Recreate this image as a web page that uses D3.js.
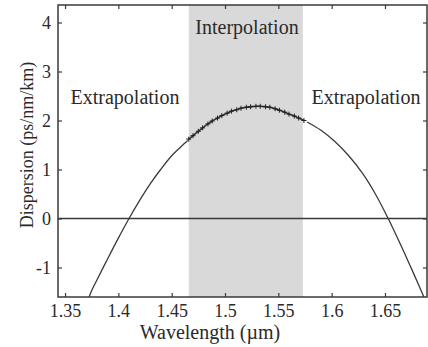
<!DOCTYPE html>
<html>
<head>
<meta charset="utf-8">
<script src="https://cdn.jsdelivr.net/npm/d3@7"></script>
<style>
  body { margin: 0; background: #fff; }
  svg text { font-family: "Liberation Serif", "Times New Roman", Tinos, "DejaVu Serif", "Noto Serif", serif !important; fill: #2a2a2a; }
</style>
</head>
<body>
<div id="chart"></div>
<script>
// axis ranges and ticks
const xDomain = [1.3434, 1.6894];
const yDomain = [-1.602, 4.357];
const xTicks = [1.35, 1.4, 1.45, 1.5, 1.55, 1.6, 1.65];
const yTicks = [-1, 0, 1, 2, 3, 4];
const interpBand = [1.466, 1.573];

// extrapolated curve, left branch (µm, ps/nm/km)
const leftWl = [1.370, 1.374, 1.380, 1.390, 1.400, 1.410, 1.420, 1.430, 1.440, 1.450, 1.458, 1.465];
const leftD  = [-1.78, -1.52, -1.25, -0.82, -0.40, 0.00, 0.37, 0.71, 1.01, 1.28, 1.45, 1.59];

// interpolated (measured) points
const interpWl = [1.466, 1.470, 1.475, 1.479, 1.484, 1.488, 1.493, 1.497, 1.502, 1.506, 1.511, 1.515, 1.520,
                  1.524, 1.529, 1.533, 1.538, 1.542, 1.547, 1.551, 1.556, 1.560, 1.565, 1.569, 1.574];
const interpD  = [1.62, 1.69, 1.78, 1.85, 1.93, 1.99, 2.05, 2.10, 2.15, 2.19, 2.22, 2.25, 2.27,
                  2.28, 2.29, 2.29, 2.28, 2.27, 2.24, 2.21, 2.17, 2.13, 2.09, 2.05, 2.00];

// extrapolated curve, right branch
const rightWl = [1.577, 1.590, 1.603, 1.616, 1.629, 1.641, 1.653, 1.665, 1.677, 1.690];
const rightD  = [1.97, 1.80, 1.57, 1.28, 0.92, 0.50, 0.00, -0.55, -1.13, -1.78];

const width = 428, height = 347;
const margin = { left: 58, right: 1, top: 5, bottom: 50 };

const svg = d3.select("#chart").append("svg")
    .attr("width", width)
    .attr("height", height);

const x = d3.scaleLinear().domain(xDomain).range([margin.left, width - margin.right]);
const y = d3.scaleLinear().domain(yDomain).range([height - margin.bottom, margin.top]);

const ink = "#3a3a3a";

svg.append("clipPath").attr("id", "plot-clip")
    .append("rect")
    .attr("x", x.range()[0]).attr("y", y.range()[1])
    .attr("width", x.range()[1] - x.range()[0])
    .attr("height", y.range()[0] - y.range()[1]);

// shaded interpolation band
svg.append("rect")
    .attr("x", x(interpBand[0]))
    .attr("y", y.range()[1])
    .attr("width", x(interpBand[1]) - x(interpBand[0]))
    .attr("height", y.range()[0] - y.range()[1])
    .attr("fill", "#d9d9d9");

// zero line
svg.append("line")
    .attr("x1", x.range()[0]).attr("x2", x.range()[1])
    .attr("y1", y(0)).attr("y2", y(0))
    .attr("stroke", ink).attr("stroke-width", 1.3);

const line = d3.line()
    .x(d => x(d[0]))
    .y(d => y(d[1]))
    .curve(d3.curveCatmullRom);

const plot = svg.append("g").attr("clip-path", "url(#plot-clip)");

[d3.zip(leftWl, leftD), d3.zip(rightWl, rightD)].forEach(pts => {
    plot.append("path")
        .datum(pts)
        .attr("d", line)
        .attr("fill", "none")
        .attr("stroke", ink)
        .attr("stroke-width", 1.3);
});

// measured points drawn as small "+" marks
const interpPts = d3.zip(interpWl, interpD);
plot.append("path")
    .datum(interpPts)
    .attr("d", line)
    .attr("fill", "none")
    .attr("stroke", "#333")
    .attr("stroke-width", 1.6);

plot.append("g").selectAll("path")
    .data(interpPts)
    .enter().append("path")
    .attr("d", "M-2.5,0H2.5M0,-2.5V2.5")
    .attr("transform", d => `translate(${x(d[0])},${y(d[1])})`)
    .attr("fill", "none")
    .attr("stroke", "#222")
    .attr("stroke-width", 1);

// axes, ticks pointing inward on all four sides
const tickLen = 4;
const fmtY = d => (d < 0 ? "-" : "") + Math.abs(d);
svg.append("g")
    .attr("transform", `translate(0,${y.range()[0]})`)
    .call(d3.axisBottom(x).tickValues(xTicks).tickSize(-tickLen).tickPadding(7).tickFormat(d3.format("")))
    .call(g => g.select(".domain").remove());
svg.append("g")
    .attr("transform", `translate(0,${y.range()[1]})`)
    .call(d3.axisTop(x).tickValues(xTicks).tickSize(-tickLen).tickFormat(""))
    .call(g => g.select(".domain").remove());
svg.append("g")
    .attr("transform", `translate(${x.range()[0]},0)`)
    .call(d3.axisLeft(y).tickValues(yTicks).tickSize(-tickLen).tickPadding(7).tickFormat(fmtY))
    .call(g => g.select(".domain").remove());
svg.append("g")
    .attr("transform", `translate(${x.range()[1]},0)`)
    .call(d3.axisRight(y).tickValues(yTicks).tickSize(-tickLen).tickFormat(""))
    .call(g => g.select(".domain").remove());

svg.selectAll(".tick line").attr("stroke", ink).attr("stroke-width", 1.2);
svg.selectAll(".tick text")
    .attr("font-size", 18)
    .attr("fill", "#2a2a2a");

// frame
svg.append("rect")
    .attr("x", x.range()[0]).attr("y", y.range()[1])
    .attr("width", x.range()[1] - x.range()[0])
    .attr("height", y.range()[0] - y.range()[1])
    .attr("fill", "none")
    .attr("stroke", ink)
    .attr("stroke-width", 1.5);

// labels
svg.append("text")
    .attr("x", 210).attr("y", 339)
    .attr("text-anchor", "middle")
    .attr("font-size", 20)
    .text("Wavelength (µm)");

svg.append("text")
    .attr("transform", "translate(33,145) rotate(-90)")
    .attr("text-anchor", "middle")
    .attr("font-size", 18)
    .text("Dispersion (ps/nm/km)");

svg.append("text")
    .attr("x", 247).attr("y", 34)
    .attr("text-anchor", "middle")
    .attr("font-size", 20)
    .text("Interpolation");

svg.append("text")
    .attr("x", 125).attr("y", 104)
    .attr("text-anchor", "middle")
    .attr("font-size", 20)
    .text("Extrapolation");

svg.append("text")
    .attr("x", 366).attr("y", 104)
    .attr("text-anchor", "middle")
    .attr("font-size", 20)
    .text("Extrapolation");
</script>
</body>
</html>
